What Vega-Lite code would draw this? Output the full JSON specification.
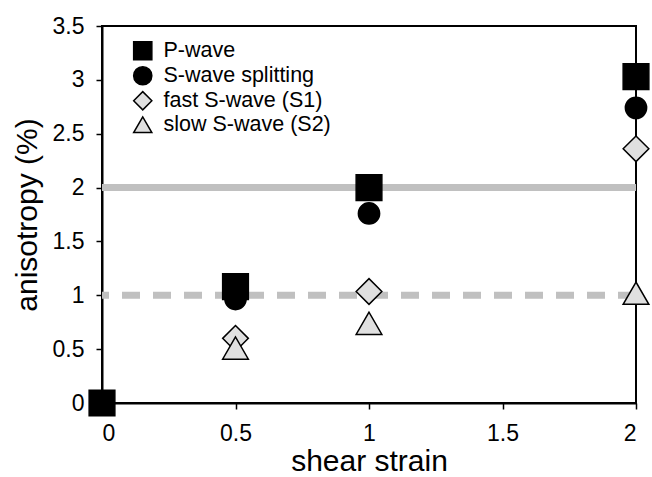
{
  "$schema": "https://vega.github.io/schema/vega-lite/v6.json",
  "width": 534,
  "height": 377,
  "autosize": "none",
  "padding": {"left": 102, "top": 26, "right": 16, "bottom": 74},
  "background": "white",
  "config": {
    "font": "Liberation Sans",
    "view": {"stroke": "black", "strokeWidth": 2},
    "axis": {
      "domainColor": "black",
      "domainWidth": 2,
      "tickColor": "black",
      "tickWidth": 1.5,
      "tickSize": 6,
      "labelFontSize": 23,
      "labelColor": "black",
      "titleFontSize": 30,
      "titleFontWeight": "normal",
      "titleColor": "black",
      "grid": false
    },
    "legend": {
      "title": null,
      "orient": "none",
      "legendX": 30,
      "legendY": 14,
      "labelFontSize": 21.5,
      "labelColor": "black",
      "labelLimit": 400,
      "symbolSize": 330,
      "symbolStrokeWidth": 1.5,
      "rowPadding": 0,
      "labelOffset": 10
    }
  },
  "layer": [
    {
      "data": {"values": [{"level": 2}]},
      "mark": {"type": "rule", "color": "#c0c0c0", "strokeWidth": 7},
      "encoding": {"y": {"field": "level", "type": "quantitative"}}
    },
    {
      "data": {"values": [{"level": 1}]},
      "mark": {"type": "rule", "color": "#c0c0c0", "strokeWidth": 7, "strokeDash": [18, 13]},
      "encoding": {"y": {"field": "level", "type": "quantitative"}}
    },
    {
      "data": {
        "values": [
          {"series": "P-wave", "strain": 0, "anisotropy": 0},
          {"series": "P-wave", "strain": 0.5, "anisotropy": 1.08},
          {"series": "P-wave", "strain": 1, "anisotropy": 2.0},
          {"series": "P-wave", "strain": 2, "anisotropy": 3.03},
          {"series": "S-wave splitting", "strain": 0.5, "anisotropy": 0.965},
          {"series": "S-wave splitting", "strain": 1, "anisotropy": 1.76},
          {"series": "S-wave splitting", "strain": 2, "anisotropy": 2.74},
          {"series": "fast S-wave (S1)", "strain": 0.5, "anisotropy": 0.6},
          {"series": "fast S-wave (S1)", "strain": 1, "anisotropy": 1.035},
          {"series": "fast S-wave (S1)", "strain": 2, "anisotropy": 2.36},
          {"series": "slow S-wave (S2)", "strain": 0.5, "anisotropy": 0.51},
          {"series": "slow S-wave (S2)", "strain": 1, "anisotropy": 0.74},
          {"series": "slow S-wave (S2)", "strain": 2, "anisotropy": 1.02}
        ]
      },
      "mark": {"type": "point", "filled": true, "strokeWidth": 1.5, "opacity": 1},
      "encoding": {
        "x": {
          "field": "strain", "type": "quantitative",
          "scale": {"domain": [0, 2], "nice": false, "zero": false},
          "axis": {"values": [0, 0.5, 1, 1.5, 2], "format": ".1~f", "title": "shear strain", "labelPadding": 13, "titlePadding": 1}
        },
        "y": {
          "field": "anisotropy", "type": "quantitative",
          "scale": {"domain": [0, 3.5], "nice": false},
          "axis": {"values": [0, 0.5, 1, 1.5, 2, 2.5, 3, 3.5], "format": ".1~f", "title": "anisotropy (%)", "labelPadding": 12, "titlePadding": 10}
        },
        "shape": {
          "field": "series", "type": "nominal",
          "scale": {
            "domain": ["P-wave", "S-wave splitting", "fast S-wave (S1)", "slow S-wave (S2)"],
            "range": ["square", "circle", "diamond", "triangle-up"]
          }
        },
        "fill": {
          "field": "series", "type": "nominal",
          "scale": {
            "domain": ["P-wave", "S-wave splitting", "fast S-wave (S1)", "slow S-wave (S2)"],
            "range": ["black", "black", "#e0e0e0", "#e0e0e0"]
          }
        },
        "stroke": {
          "field": "series", "type": "nominal",
          "scale": {
            "domain": ["P-wave", "S-wave splitting", "fast S-wave (S1)", "slow S-wave (S2)"],
            "range": ["black", "#000000", "#000", "rgb(0,0,0)"]
          }
        },
        "size": {
          "condition": {"test": "datum.series === 'S-wave splitting'", "value": 452},
          "value": 660
        }
      }
    }
  ]
}
